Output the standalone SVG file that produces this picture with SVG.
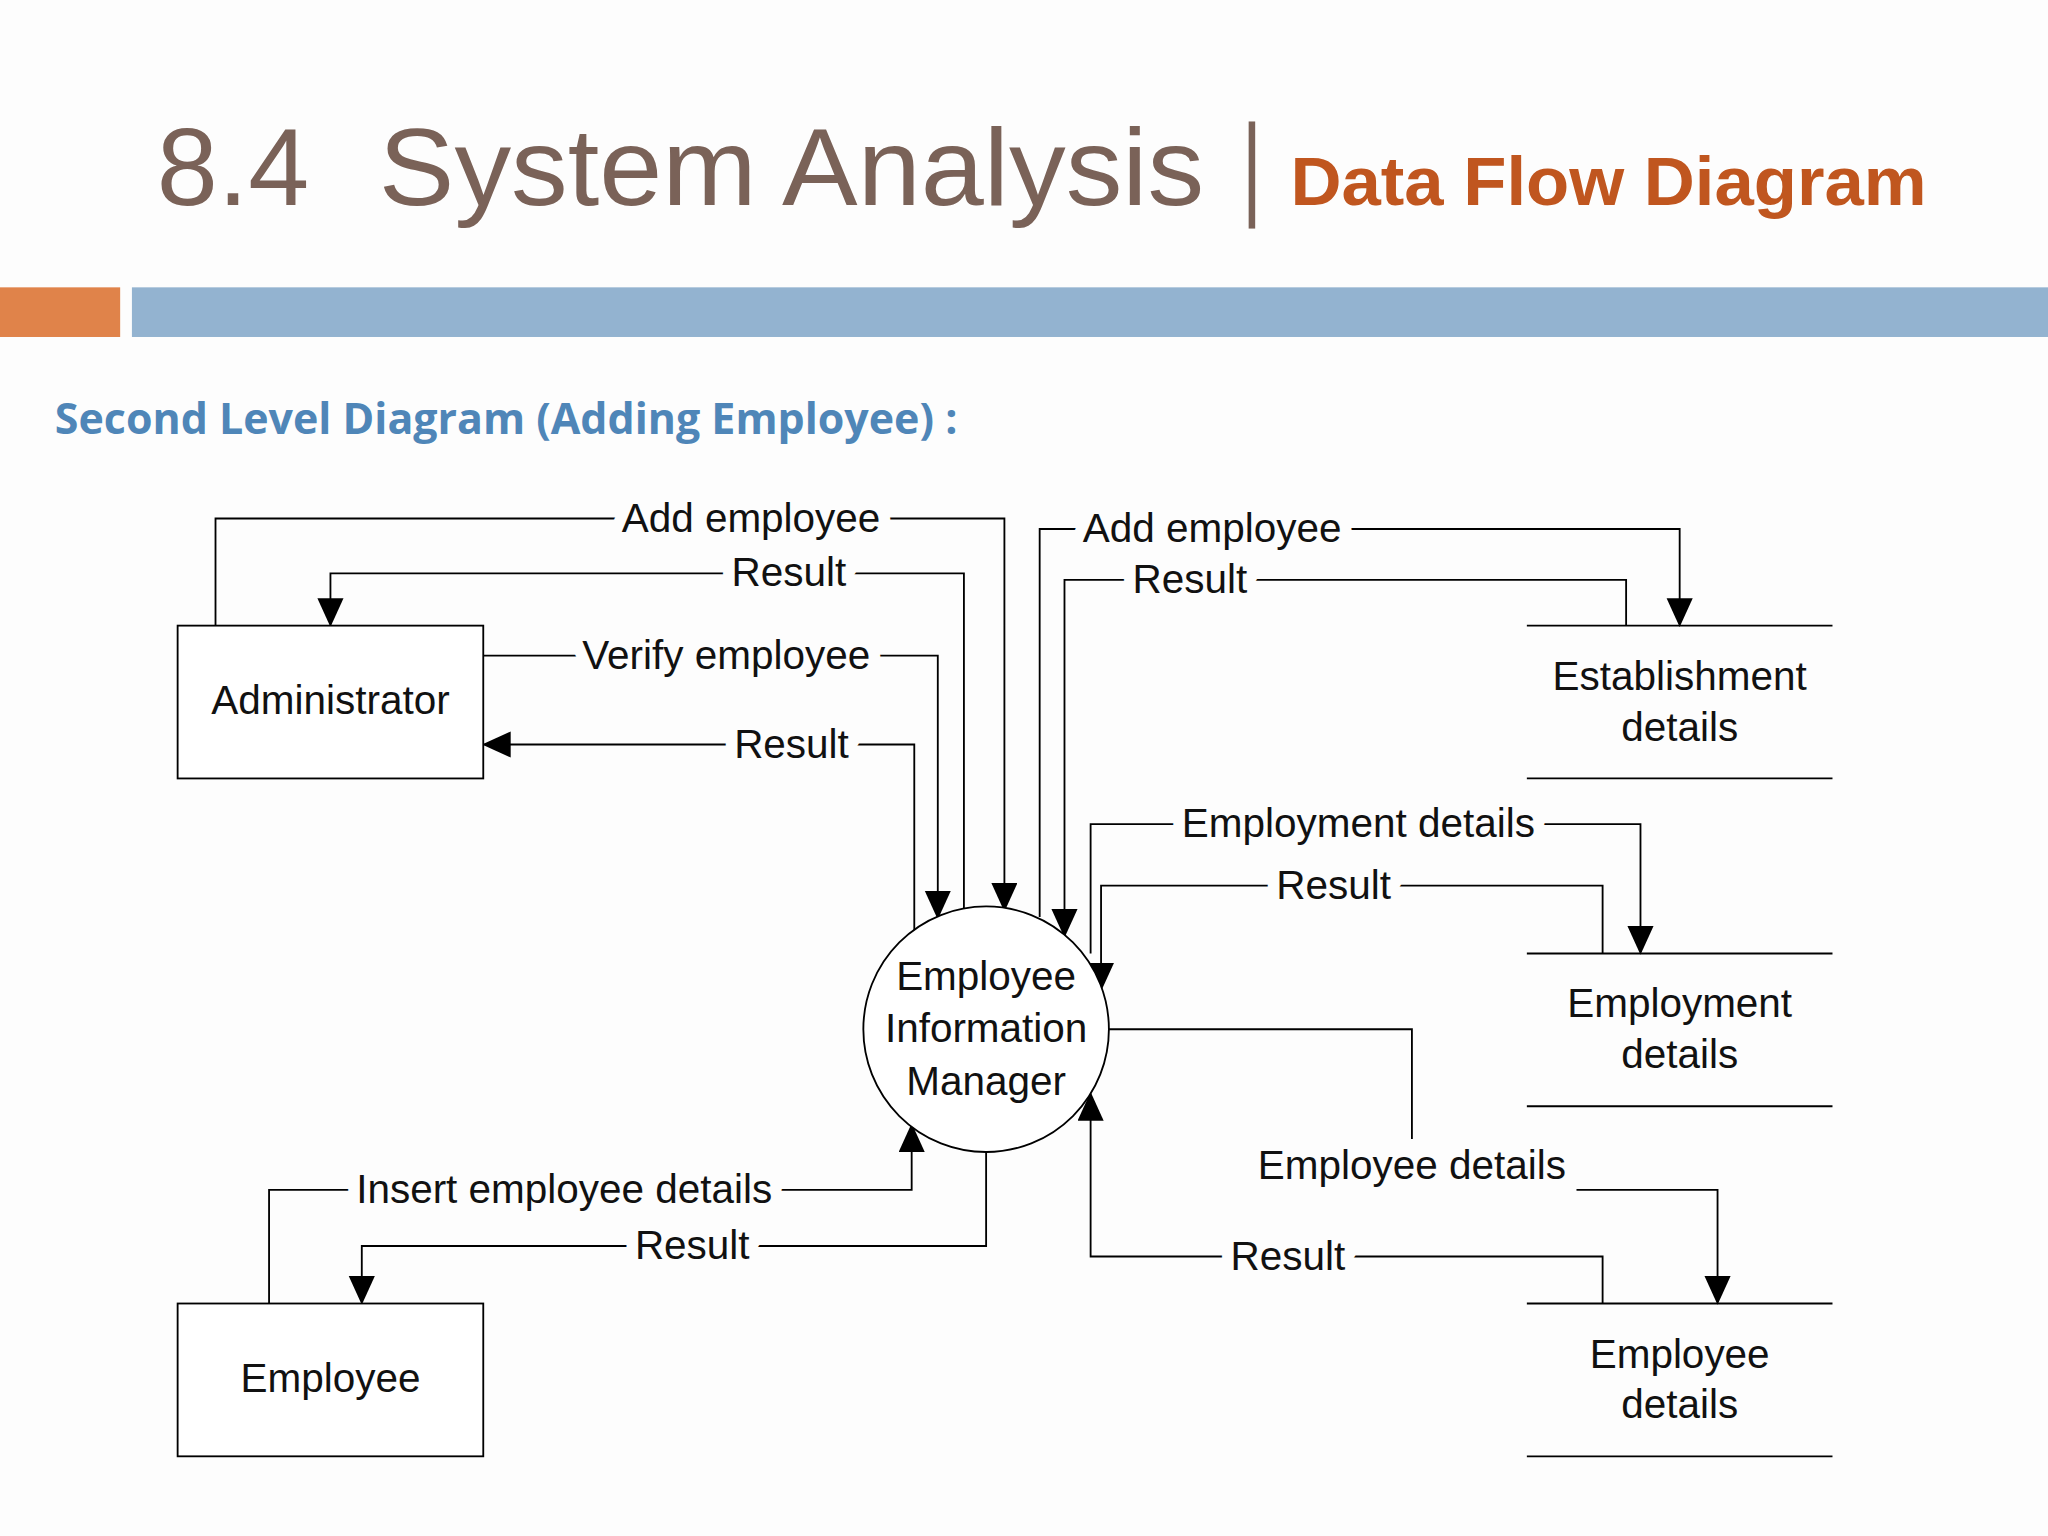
<svg xmlns="http://www.w3.org/2000/svg" width="2048" height="1536" viewBox="0 0 2048 1536">
<defs>
<marker id="ah" markerUnits="userSpaceOnUse" markerWidth="22" markerHeight="24" refX="20" refY="10" orient="auto">
<path d="M0,0 L22,10 L0,20 Z" fill="#000"/>
</marker>
<style>
.c{fill:none;stroke:#000;stroke-width:1.4}
.a{marker-end:url(#ah)}
.l{font-family:"Liberation Sans",Arial,sans-serif;font-size:31px;fill:#111;stroke:#fdfdfd;stroke-width:18;stroke-linejoin:round;paint-order:stroke;text-anchor:middle}
.n{font-family:"Liberation Sans",Arial,sans-serif;font-size:31px;fill:#111;text-anchor:middle}
.b{fill:#fff;stroke:#000;stroke-width:1.4}
</style>
</defs>
<rect width="2048" height="1536" fill="#fdfdfd"/>
<g transform="scale(1.30612)">
<g id="title">
<text x="120" y="157" font-family="'Liberation Sans',Arial,sans-serif" font-size="84" fill="#7a6258">8.4</text>
<text x="290" y="157" font-family="'Liberation Sans',Arial,sans-serif" font-size="84" fill="#7a6258" textLength="632" lengthAdjust="spacingAndGlyphs">System Analysis</text>
<rect x="956" y="93" width="5" height="82" fill="#7a6258"/>
<text x="988" y="157" font-family="'Liberation Sans',Arial,sans-serif" font-weight="bold" font-size="52" fill="#c0561f" textLength="487" lengthAdjust="spacingAndGlyphs">Data Flow Diagram</text>
<rect x="0" y="220" width="92" height="38" fill="#e0834a"/>
<rect x="101" y="220" width="1467" height="38" fill="#93b3d0"/>
<text x="42" y="332" font-family="'Open Sans',sans-serif" font-weight="bold" font-size="33" fill="#4f86b8" textLength="691" lengthAdjust="spacingAndGlyphs">Second Level Diagram (Adding Employee) :</text>
</g>
<g id="connectors">
<polyline class="c a" points="165,479 165,397 769,397 769,696"/>
<polyline class="c a" points="738,706 738,439 253,439 253,478"/>
<polyline class="c a" points="370,502 718,502 718,702"/>
<polyline class="c a" points="700,712 700,570 371,570"/>
<polyline class="c a" points="796,702 796,405 1286,405 1286,478"/>
<polyline class="c a" points="1245,479 1245,444 815,444 815,716"/>
<polyline class="c a" points="835,730 835,631 1256,631 1256,729"/>
<polyline class="c a" points="1227,730 1227,678 843,678 843,757"/>
<polyline class="c" points="849,788 1081,788 1081,872"/>
<polyline class="c a" points="1207,911 1315,911 1315,997"/>
<polyline class="c a" points="1227,998 1227,962 835,962 835,838"/>
<polyline class="c a" points="206,998 206,911 698,911 698,862"/>
<polyline class="c a" points="755,882 755,954 277,954 277,997"/>
<text class="l" x="575" y="407">Add employee</text>
<text class="l" x="604" y="449">Result</text>
<text class="l" x="556" y="512">Verify employee</text>
<text class="l" x="606" y="580">Result</text>
<text class="l" x="928" y="415">Add employee</text>
<text class="l" x="911" y="454">Result</text>
<text class="l" x="1040" y="641">Employment details</text>
<text class="l" x="1021" y="688">Result</text>
<text class="l" x="1081" y="903">Employee details</text>
<text class="l" x="986" y="972">Result</text>
<text class="l" x="432" y="921">Insert employee details</text>
<text class="l" x="530" y="964">Result</text>
</g>
<g id="administrator"><rect class="b" x="136" y="479" width="234" height="117"/><text class="n" x="253" y="547">Administrator</text></g>
<g id="employee"><rect class="b" x="136" y="998" width="234" height="117"/><text class="n" x="253" y="1066">Employee</text></g>
<g id="eim"><circle class="b" cx="755" cy="788" r="94"/><text class="n" x="755" y="758">Employee</text><text class="n" x="755" y="798">Information</text><text class="n" x="755" y="838">Manager</text></g>
<g id="establishment"><line class="c" x1="1169" y1="479" x2="1403" y2="479"/><line class="c" x1="1169" y1="596" x2="1403" y2="596"/><text class="n" x="1286" y="528">Establishment</text><text class="n" x="1286" y="567">details</text></g>
<g id="employment"><line class="c" x1="1169" y1="730" x2="1403" y2="730"/><line class="c" x1="1169" y1="847" x2="1403" y2="847"/><text class="n" x="1286" y="779">Employment</text><text class="n" x="1286" y="818">details</text></g>
<g id="employeedetails"><line class="c" x1="1169" y1="998" x2="1403" y2="998"/><line class="c" x1="1169" y1="1115" x2="1403" y2="1115"/><text class="n" x="1286" y="1047">Employee</text><text class="n" x="1286" y="1086">details</text></g>
</g>
</svg>
